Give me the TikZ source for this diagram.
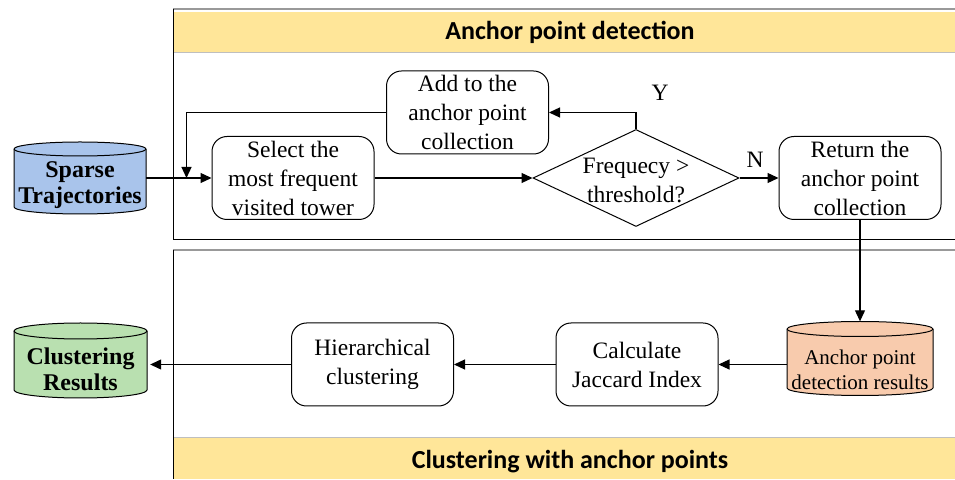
\documentclass[tikz,border=0pt]{standalone}
\usepackage{fontspec}
\setmainfont{Liberation Serif}
\newfontfamily\hdrfont{Carlito}
\usetikzlibrary{shapes.geometric,arrows.meta}
\definecolor{hdryellow}{HTML}{FFE699}
\definecolor{cylblue}{HTML}{A9C4EB}
\definecolor{cylgreen}{HTML}{B9E0B0}
\definecolor{cylorange}{HTML}{F8CBAD}
\newcommand{\drawcyl}[6]{%
  \filldraw[fill=#6, line width=1pt]
    (#1-#3/2, #2+#4/2-#5) -- (#1-#3/2, #2-#4/2+#5)
    arc[start angle=180, end angle=360, x radius=#3/2, y radius=#5]
    -- (#1+#3/2, #2+#4/2-#5)
    arc[start angle=0, end angle=180, x radius=#3/2, y radius=#5] -- cycle;
  \draw[line width=1pt] (#1+#3/2, #2+#4/2-#5)
    arc[start angle=0, end angle=-180, x radius=#3/2, y radius=#5];
}
\begin{document}
\begin{tikzpicture}[x=1pt,y=1pt,
  box/.style={draw, rounded corners=15pt, line width=1pt, align=center,
    minimum width=162pt, minimum height=83pt, inner sep=0pt,
    font=\fontsize{23.5}{29}\selectfont},
  txt/.style={align=center, inner sep=0pt, font=\fontsize{23.5}{29}\selectfont},
  cyltxt/.style={align=center, inner sep=0pt, font=\bfseries\fontsize{24}{26}\selectfont},
  hdr/.style={font=\hdrfont\bfseries\fontsize{26}{30}\selectfont, inner sep=0pt},
  arr/.style={line width=1.2pt, -{Triangle[length=11pt,width=10pt]}},
  ln/.style={line width=1.2pt}]
\useasboundingbox (0,0) rectangle (955,479);

% panels
\fill[hdryellow] (174,427) rectangle (955,467);
\draw[gray!50, line width=0.8pt] (174,427) -- (955,427);
\draw[gray!80, line width=1.2pt] (173,470) -- (955,470);
\draw[line width=1pt] (173,470) -- (173,239) -- (955,239);
\node[hdr] (t1) at (570,447) {Anchor point detection};

\fill[hdryellow] (174,0) rectangle (955,41);
\draw[gray!50, line width=0.8pt] (174,42) -- (955,42);
\draw[gray!80, line width=1.5pt] (173,229) -- (955,229);
\draw[line width=1pt] (173,229) -- (173,0);
\node[hdr] (t2) at (570,17) {Clustering with anchor points};

% cylinders
\drawcyl{80}{301}{132}{72}{7}{cylblue}
\node[minimum width=132pt, minimum height=72pt, inner sep=0pt] (sparse) at (80,301) {};
\node[cyltxt] (sparsetxt) at (80,294) {Sparse\\Trajectories};

\drawcyl{80.5}{118.5}{133}{75}{8}{cylgreen}
\node[minimum width=133pt, minimum height=75pt, inner sep=0pt] (clus) at (80.5,118.5) {};
\node[cyltxt] (clustxt) at (80.5,109.5) {Clustering\\Results};

\drawcyl{860}{120.5}{146}{74}{7.5}{cylorange}
\node[minimum width=146pt, minimum height=74pt, inner sep=0pt] (anch) at (860,120.5) {};
\node[align=center, inner sep=0pt, font=\fontsize{21}{25}\selectfont] (anchtxt) at (860,109.5) {Anchor point\\detection results};

% boxes
\node[box] (sel) at (293,301) {Select the\\most frequent\\visited tower};
\node[box] (add) at (467.5,366.5) {Add to the\\anchor point\\collection};
\node[box] (ret) at (860,301) {Return the\\anchor point\\collection};
\node[box] (jac) at (637,114.5) {Calculate\\Jaccard Index};
\node[box] (hier) at (372.5,114.5) {Hierarchical\\clustering};

\node[diamond, draw, line width=1pt, aspect=2.124, minimum width=206pt, minimum height=97pt, inner sep=0pt] (dia) at (636,301) {};
\node[txt] (diatxt) at (636,299) {Frequecy >\\threshold?};

\node[txt] (ylab) at (660,386) {Y};
\node[txt] (nlab) at (755,319) {N};

\coordinate (join) at (186.5,301);

% connectors
\draw[arr] (sparse.east) -- (sel.west);
\draw[arr] (sel.east) -- (dia.west);
\draw[arr] (dia.east) -- (ret.west);
\draw[arr] (dia.north) |- (add.east);
\draw[arr] (add.west) -| (join);
\draw[arr] (ret.south) -- (ret.south |- anch.north);
\draw[arr] (jac.east -| anch.west) -- (jac.east);
\draw[arr] (jac.west) -- (hier.east);
\draw[arr] (hier.west) -- ([xshift=3pt]hier.west -| clus.east);
\end{tikzpicture}
\end{document}
